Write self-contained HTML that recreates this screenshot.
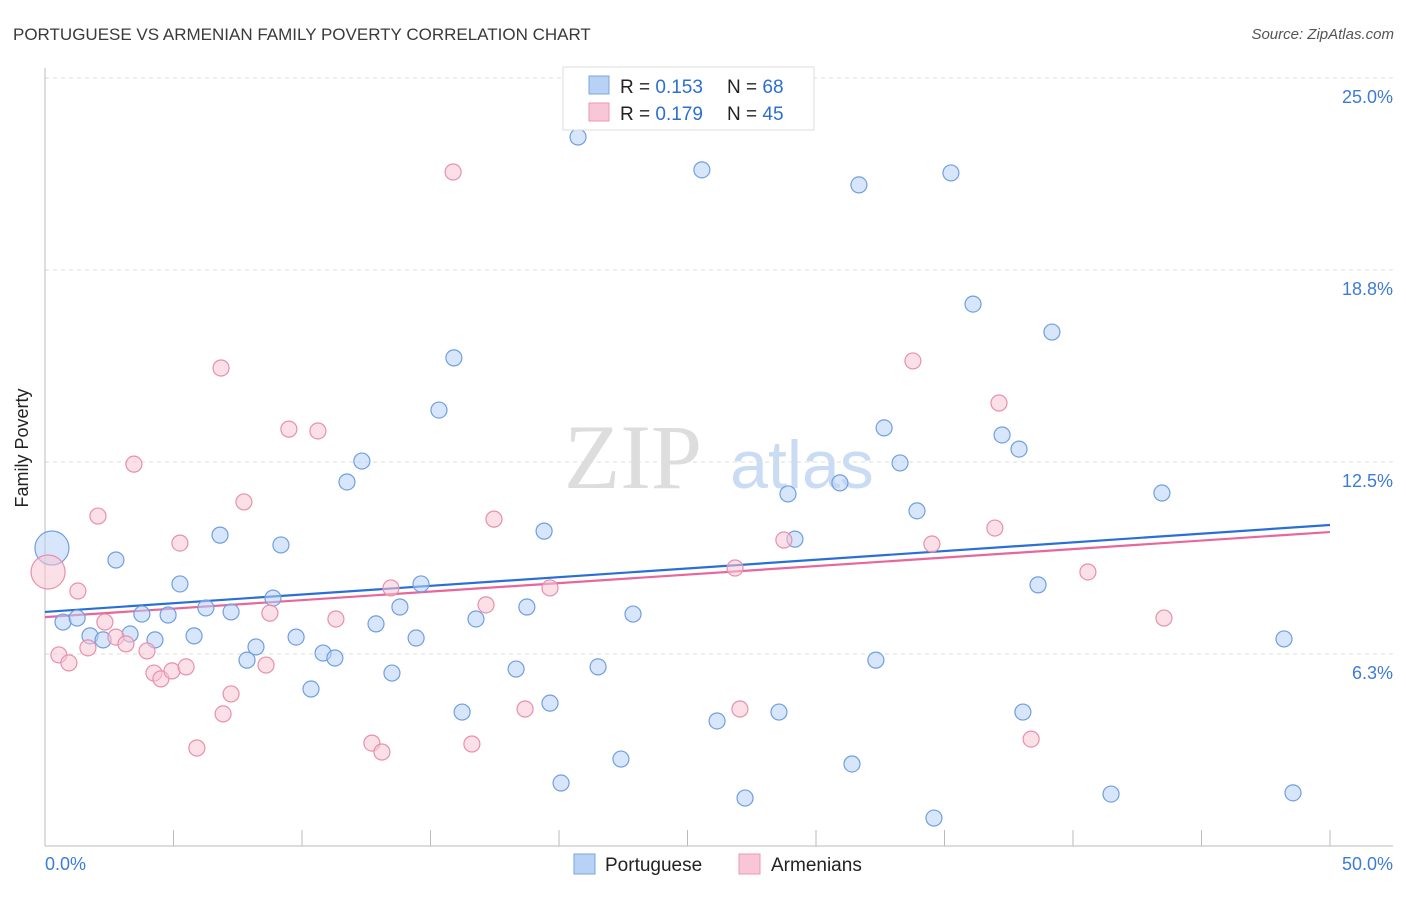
<!DOCTYPE html>
<html><head><meta charset="utf-8"><style>
body{margin:0;background:#fff;font-family:"Liberation Sans",sans-serif;}
svg text{font-family:"Liberation Sans",sans-serif;}
</style></head><body>
<svg id="chart" width="1406" height="892" viewBox="0 0 1406 892">
<text x="13" y="40" font-size="17" fill="#3a3a3a">PORTUGUESE VS ARMENIAN FAMILY POVERTY CORRELATION CHART</text>
<text x="1394" y="39" font-size="15" fill="#555" font-style="italic" text-anchor="end">Source: ZipAtlas.com</text>
<text x="36" y="456" font-size="18" fill="#222" text-anchor="middle" transform="rotate(-90 28 456)">Family Poverty</text>
<g>
<text x="633" y="488" font-size="92" fill="#ddd" text-anchor="middle" style="font-family:'Liberation Serif',serif">ZIP</text>
<text x="802" y="488" font-size="68" fill="#c9dcf3" text-anchor="middle">atlas</text>
</g>
<g id="grid"></g><g id="axes"></g><g id="lines"></g><g id="points"></g>
<g>
<rect x="563" y="67" width="251" height="63" fill="#fff" stroke="#ddd"/>
<rect x="589" y="76" width="20" height="18" fill="#b7d2f5" stroke="#7aa6e3"/>
<rect x="589" y="103" width="20" height="18" fill="#f8c6d6" stroke="#ec99b5"/>
<text x="620" y="93" font-size="19" fill="#222">R = <tspan fill="#2c6fd1">0.153</tspan></text>
<text x="727" y="93" font-size="19" fill="#222">N = <tspan fill="#2c6fd1">68</tspan></text>
<text x="620" y="120" font-size="19" fill="#222">R = <tspan fill="#2c6fd1">0.179</tspan></text>
<text x="727" y="120" font-size="19" fill="#222">N = <tspan fill="#2c6fd1">45</tspan></text>
</g>
<g>
<rect x="574" y="854" width="21" height="20" fill="#b7d2f5" stroke="#7aa6e3"/>
<text x="605" y="871" font-size="19" fill="#222">Portuguese</text>
<rect x="739" y="854" width="21" height="20" fill="#f8c6d6" stroke="#ec99b5"/>
<text x="771" y="871" font-size="19" fill="#222">Armenians</text>
</g>
</svg>
<script>
const yTicks=[6.25,12.5,18.75,25];
const yTickLabels=["6.3%","12.5%","18.8%","25.0%"];
const xTickLabels=["0.0%","50.0%"];
const portX=[0.27,0.70,1.25,1.75,2.26,2.76,3.31,3.77,4.28,4.79,5.25,5.80,6.26,6.81,7.24,7.86,8.21,8.87,9.18,9.77,10.35,10.82,11.28,11.75,12.33,12.88,13.50,13.81,14.44,14.63,15.33,15.91,16.23,16.77,18.33,18.75,19.42,19.65,20.08,20.74,21.52,22.41,22.88,25.56,26.15,27.24,28.56,28.91,29.18,30.93,31.40,31.67,32.33,32.65,33.27,33.93,34.59,35.25,36.11,37.24,37.90,38.05,38.64,39.18,41.48,43.46,48.21,48.56];
const portY=[9.70,7.29,7.42,6.84,6.71,9.31,6.90,7.55,6.71,7.52,8.53,6.84,7.75,10.12,7.62,6.05,6.48,8.07,9.80,6.80,5.11,6.28,6.12,11.85,12.53,7.23,5.63,7.78,6.77,8.53,14.19,15.89,4.36,7.39,5.76,7.78,10.25,4.65,2.05,23.08,5.83,2.83,7.55,22.01,4.07,1.56,4.36,11.46,9.99,11.82,2.67,21.52,6.05,13.61,12.47,10.91,0.91,21.91,17.64,13.38,12.92,4.36,8.50,16.73,1.69,11.49,6.74,1.73];
const armX=[0.12,0.54,0.93,1.28,1.67,2.06,2.33,2.76,3.15,3.46,3.97,4.24,4.51,4.94,5.25,5.49,5.91,6.85,6.93,7.24,7.74,8.60,8.75,9.49,10.62,11.32,12.72,13.11,13.46,15.88,16.61,17.16,17.47,18.68,19.65,26.85,27.04,28.75,33.77,34.51,36.96,37.12,38.37,40.58,43.54];
const armY=[8.92,6.22,5.96,8.30,6.45,10.74,7.29,6.80,6.58,12.43,6.35,5.63,5.44,5.70,9.86,5.83,3.19,15.56,4.30,4.95,11.20,5.89,7.58,13.57,13.51,7.39,3.35,3.06,8.40,21.94,3.32,7.85,10.64,4.46,8.40,9.05,4.46,9.96,15.79,9.83,10.35,14.42,3.48,8.92,7.42];
const trendPort=[7.62,10.45];
const trendArm=[7.45,10.22];
const NS="http://www.w3.org/2000/svg";
const X0=45,X1=1330,Y0=846,PXY=30.72;
const sx=v=>X0+(X1-X0)*v/50, sy=v=>Y0-v*PXY;
function mk(tag,attrs,parent){const e=document.createElementNS(NS,tag);for(const k in attrs)e.setAttribute(k,attrs[k]);document.getElementById(parent).appendChild(e);return e;}
yTicks.forEach((t,i)=>{
 const g=mk('line',{x1:X0,x2:1393,y1:sy(t),y2:sy(t),stroke:'#ddd','stroke-dasharray':'4,4'},'grid');
 
 
 const tx=mk('text',{x:1393,y:sy(t)+25,'font-size':18,fill:'#3d7bd8','text-anchor':'end'},'grid');
 tx.textContent=yTickLabels[i];
 
 
});
const topG=mk('line',{x1:X0,x2:1393,y1:78,y2:78,stroke:'#ddd','stroke-dasharray':'4,4'},'grid');


const ya=mk('line',{x1:X0,x2:X0,y1:68,y2:Y0,stroke:'#bbb'},'axes');


const xa=mk('line',{x1:X0,x2:1393,y1:Y0,y2:Y0,stroke:'#bbb'},'axes');


for(let i=0;i<=10;i++){const t=mk('line',{x1:sx(i*5),x2:sx(i*5),y1:830,y2:Y0,stroke:'#bbb'},'axes');
 
 }
[[0,'start'],[50,'end']].forEach((p,i)=>{const t=mk('text',{x:i?1393:45,y:870,'font-size':18,fill:'#3d7bd8','text-anchor':p[1]},'axes');t.textContent=xTickLabels[i];
 
 });
function pts(xs,ys,fill,stroke,name){xs.forEach((x,i)=>{const big=i===0&&x<0.5;const c=mk('circle',{cx:sx(x),cy:sy(ys[i]),r:big?17:8,fill:fill,'fill-opacity':0.55,stroke:stroke,'stroke-width':1.2},'points');
 
 });}
pts(portX,portY,'#b7d2f5','#6f9fe0','point-portuguese');
pts(armX,armY,'#f8c6d6','#e88fae','point-armenians');
const l1=mk('line',{x1:sx(0),y1:sy(trendPort[0]),x2:sx(50),y2:sy(trendPort[1]),stroke:'#2a6fd6','stroke-width':2.2},'lines');


const l2=mk('line',{x1:sx(0),y1:sy(trendArm[0]),x2:sx(50),y2:sy(trendArm[1]),stroke:'#e8669a','stroke-width':2.2},'lines');


</script>
</body></html>
